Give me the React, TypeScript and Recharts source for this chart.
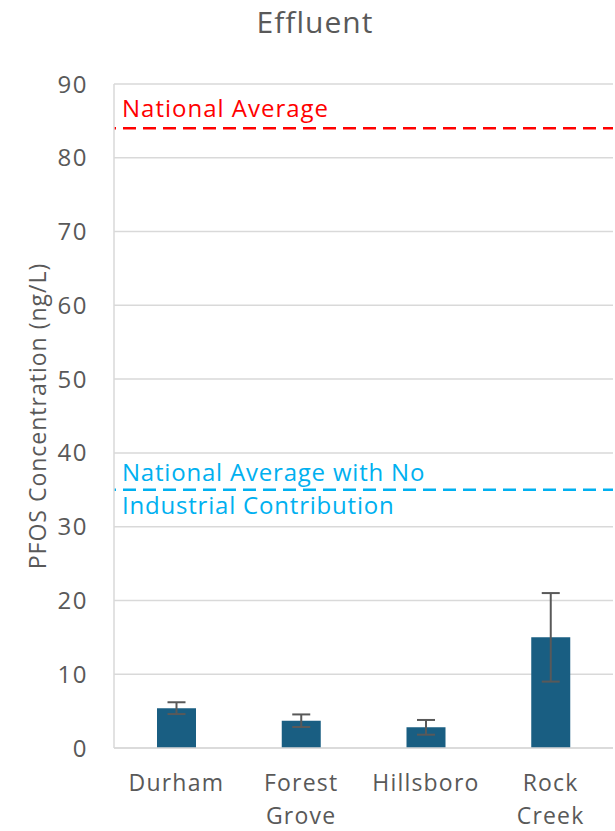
import React from 'react'
import {
  BarChart, Bar, XAxis, YAxis, CartesianGrid, ReferenceLine, ErrorBar,
} from 'recharts'

// Effluent PFOS per site
const sites = ['Durham', 'Forest Grove', 'Hillsboro', 'Rock Creek']
const pfos = [5.4, 3.7, 2.8, 15.0]
const pfosErr = [0.8, 0.85, 1.0, 6.0]
const yTicks = [0, 10, 20, 30, 40, 50, 60, 70, 80, 90]

const nationalAvg = 84
const nationalAvgNoIndustry = 35

const FONT = '"Open Sans", sans-serif'
const GREY = '#595959'

const data = sites.map((s, i) => ({ site: s, value: pfos[i], err: pfosErr[i] }))

function SiteTick({ x, y, payload }: any) {
  const lines = String(payload.value).split(' ')
  return (
    <text x={x} y={y} textAnchor="middle" fill={GREY} fontSize={23} fontFamily={FONT} letterSpacing={1.2}>
      {lines.map((l, i) => (
        <tspan key={i} x={x} dy={i === 0 ? 35 : 33}>{l}</tspan>
      ))}
    </text>
  )
}

function YTitle({ viewBox }: any) {
  const cx = 37
  const cy = viewBox.y + viewBox.height / 2
  return (
    <text
      x={cx} y={cy}
      transform={`rotate(-90, ${cx}, ${cy})`}
      textAnchor="middle" dominantBaseline="central"
      fill={GREY} fontSize={23} fontFamily={FONT} letterSpacing={1}
    >
      PFOS Concentration (ng/L)
    </text>
  )
}

function RedLabel({ viewBox }: any) {
  return (
    <text x={viewBox.x + 8} y={viewBox.y - 11} fill="#ff0000" fontSize={24} fontFamily={FONT} letterSpacing={1}>
      National Average
    </text>
  )
}

function BlueLabel({ viewBox }: any) {
  return (
    <text x={viewBox.x + 8} y={viewBox.y - 9} fill="#00b0f0" fontSize={24} fontFamily={FONT} letterSpacing={0.8}>
      <tspan x={viewBox.x + 8}>National Average with No</tspan>
      <tspan x={viewBox.x + 8} dy={33}>Industrial Contribution</tspan>
    </text>
  )
}

export default function App() {
  return (
    <div style={{ position: 'absolute', left: 0, top: 0, width: 615, height: 831, background: '#fff' }}>
      <div style={{
        position: 'absolute', left: 0, top: 4, width: 630, textAlign: 'center',
        fontFamily: FONT, fontSize: 30, color: GREY, lineHeight: '36px', letterSpacing: 1,
      }}>
        Effluent
      </div>
      <BarChart
        width={615}
        height={831}
        data={data}
        margin={{ top: 84, right: 2, left: 34, bottom: 13 }}
        barCategoryGap={0}
      >
        <CartesianGrid vertical={false} stroke="#d9d9d9" strokeWidth={1.5} />
        <XAxis
          dataKey="site"
          axisLine={{ stroke: '#d9d9d9', strokeWidth: 1.5 }}
          tickLine={false}
          tick={<SiteTick />}
          interval={0}
          height={70}
        />
        <YAxis
          domain={[0, 90]}
          ticks={yTicks}
          width={80}
          axisLine={{ stroke: '#d9d9d9', strokeWidth: 1.5 }}
          tickLine={false}
          tickMargin={20}
          tick={{ fill: GREY, fontSize: 24, fontFamily: FONT, letterSpacing: 1.5 }}
          label={<YTitle />}
        />
        <ReferenceLine
          y={nationalAvg}
          stroke="#ff0000"
          strokeWidth={2.5}
          strokeDasharray="13 7"
          strokeDashoffset={-9}
          label={<RedLabel />}
        />
        <ReferenceLine
          y={nationalAvgNoIndustry}
          stroke="#00b0f0"
          strokeWidth={2.5}
          strokeDasharray="13 7"
          strokeDashoffset={-9}
          label={<BlueLabel />}
        />
        <Bar dataKey="value" fill="#195e82" barSize={39} isAnimationActive={false}>
          <ErrorBar dataKey="err" width={9} stroke={GREY} strokeWidth={2} isAnimationActive={false} />
        </Bar>
      </BarChart>
    </div>
  )
}
